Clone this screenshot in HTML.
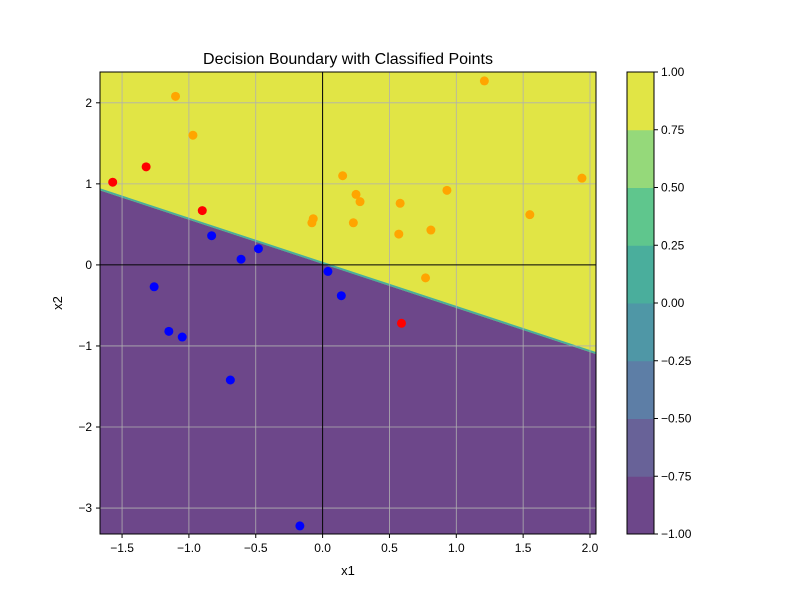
<!DOCTYPE html>
<html><head><meta charset="utf-8"><style>body{margin:0;background:#fff}svg text{font-family:"Liberation Sans","DejaVu Sans",sans-serif;fill:#000}</style></head>
<body>
<svg id="chart" width="800" height="600" xmlns="http://www.w3.org/2000/svg">
<text x="348" y="64" font-size="16" text-anchor="middle">Decision Boundary with Classified Points</text>
<g id="plot"></g>
<text x="348" y="575" font-size="13" text-anchor="middle">x1</text>
<text x="62" y="303" font-size="13" text-anchor="middle" transform="rotate(-90 62 303)">x2</text>
<g id="cbar"></g>
</svg>
<script>
const xTicks=[-1.5,-1.0,-0.5,0.0,0.5,1.0,1.5,2.0];
const yTicks=[-3,-2,-1,0,1,2];
const boundary=[[-1.665,0.92],[2.045,-1.1]];
const orangeX=[-1.1,-0.97,0.15,0.25,0.28,-0.07,-0.08,0.23,0.58,0.57,0.81,0.93,1.21,1.55,1.94,0.77];
const orangeY=[2.08,1.6,1.1,0.87,0.78,0.57,0.52,0.52,0.76,0.38,0.43,0.92,2.27,0.62,1.07,-0.16];
const redX=[-1.57,-1.32,-0.9,0.59];
const redY=[1.02,1.21,0.67,-0.72];
const blueX=[-0.83,-0.61,-0.48,-1.26,-1.15,-1.05,-0.69,-0.17,0.04,0.14];
const blueY=[0.36,0.07,0.2,-0.27,-0.82,-0.89,-1.42,-3.22,-0.08,-0.38];
const cbLevels=[-1,-0.75,-0.5,-0.25,0,0.25,0.5,0.75,1];
const cbColors=["#6d478a","#6a6099","#5f80a6","#519aa6","#4bb09d","#5cc48f","#8bd47d","#a0d87a"];
const cbColorsFix=["#6d478a","#686298","#5d7ea6","#4f97a6","#4aae9c","#5fc68d","#95d97a","#e1e545"];
const NS="http://www.w3.org/2000/svg";
const L=100,R=596,T=72,B=534,xmin=-1.665,xmax=2.045,ymin=-3.32,ymax=2.38;
const sx=v=>L+(v-xmin)/(xmax-xmin)*(R-L), sy=v=>B-(v-ymin)/(ymax-ymin)*(B-T);
function mk(p,tag,at){const e=document.createElementNS(NS,tag);for(const k in at)e.setAttribute(k,at[k]);p.appendChild(e);return e;}
const g=document.getElementById('plot');
let r=mk(g,'rect',{x:L,y:T,width:R-L,height:B-T,fill:'#e1e545'});

const bx0=sx(boundary[0][0]),by0=sy(boundary[0][1]),bx1=sx(boundary[1][0]),by1=sy(boundary[1][1]);
let pg=mk(g,'polygon',{points:`${bx0},${by0} ${bx1},${by1} ${R},${B} ${L},${B}`,fill:'#6d478a'});

let bl=mk(g,'line',{x1:bx0,y1:by0-1,x2:bx1,y2:by1-1,stroke:'#4aae9c','stroke-width':2});

xTicks.forEach(v=>{const x=sx(v);
 let gl=mk(g,'line',{x1:x,y1:T,x2:x,y2:B,stroke:'#b0b0b0','stroke-width':0.8});
 
 mk(g,'line',{x1:x,y1:B,x2:x,y2:B+4,stroke:'#000'});
 let t=mk(g,'text',{x:x,y:B+18,'font-size':12,'text-anchor':'middle'});t.textContent=(v<0?'\u2212':'')+Math.abs(v).toFixed(1);
 });
yTicks.forEach(v=>{const y=sy(v);
 let gl=mk(g,'line',{x1:L,y1:y,x2:R,y2:y,stroke:'#b0b0b0','stroke-width':0.8});
 
 mk(g,'line',{x1:L-4,y1:y,x2:L,y2:y,stroke:'#000'});
 let t=mk(g,'text',{x:L-8,y:y+4,'font-size':12,'text-anchor':'end'});t.textContent=(v<0?'\u2212':'')+Math.abs(v);
 });
let ax=mk(g,'line',{x1:sx(0),y1:T,x2:sx(0),y2:B,stroke:'#000','stroke-width':1});

let ay=mk(g,'line',{x1:L,y1:sy(0),x2:R,y2:sy(0),stroke:'#000','stroke-width':1});

function pts(X,Y,c,n){X.forEach((v,i)=>{let p=mk(g,'circle',{cx:sx(v),cy:sy(Y[i]),r:4.5,fill:c});
 });}
pts(orangeX,orangeY,'#ffa500','orange-point');pts(redX,redY,'#ff0000','red-point');pts(blueX,blueY,'#0000ff','blue-point');
let fr=mk(g,'rect',{x:L,y:T,width:R-L,height:B-T,fill:'none',stroke:'#000','stroke-width':1});

const cb=document.getElementById('cbar');const CL=627,CR=654;
const cy=v=>B-(v+1)/2*(B-T);
for(let i=0;i<cbColorsFix.length;i++){let rc=mk(cb,'rect',{x:CL,y:cy(cbLevels[i+1]),width:CR-CL,height:cy(cbLevels[i])-cy(cbLevels[i+1])+0.5,fill:cbColorsFix[i]});
 }
mk(cb,'rect',{x:CL,y:T,width:CR-CL,height:B-T,fill:'none',stroke:'#000','stroke-width':1});
cbLevels.forEach(v=>{const y=cy(v);mk(cb,'line',{x1:CR,y1:y,x2:CR+4,y2:y,stroke:'#000'});
 let t=mk(cb,'text',{x:CR+7,y:y+4,'font-size':12});t.textContent=(v<0?'\u2212':'')+Math.abs(v).toFixed(2);
 });
</script>
</body></html>
